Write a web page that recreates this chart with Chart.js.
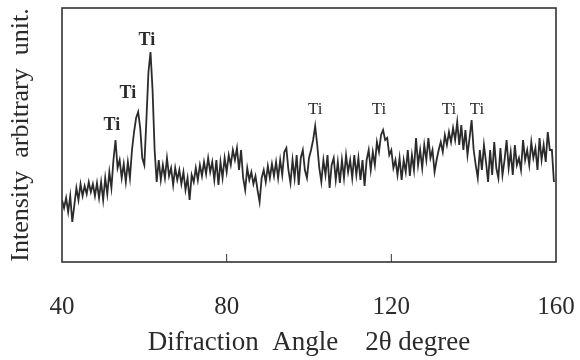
<!DOCTYPE html>
<html>
<head>
<meta charset="utf-8">
<script src="https://cdn.jsdelivr.net/npm/chart.js@4"></script>
<style>
  html, body { margin: 0; padding: 0; background: #fff; }
  #wrap { width: 580px; height: 360px; }
</style>
</head>
<body>
<div id="wrap"><canvas id="xrd"></canvas></div>
<script>
// diffraction angle 2theta, step 0.5 deg, from 40 to 159.5
var angleStart = 40, angleStep = 0.5;
var intensity = [
  62, 54, 64, 50, 66, 40, 57, 74, 62, 78, 66, 76, 68, 80, 70, 78, 66, 79, 64, 80,
  62, 84, 68, 90, 74, 102, 122, 94, 102, 84, 98, 80, 100, 84, 112, 130, 144, 150, 134, 104,
  97, 142, 190, 210, 172, 112, 80, 102, 82, 97, 84, 104, 86, 94, 77, 94, 82, 92, 78, 90,
  72, 84, 62, 87, 80, 94, 82, 97, 86, 100, 88, 104, 90, 100, 82, 102, 77, 100, 84, 104,
  90, 107, 97, 112, 102, 114, 92, 112, 84, 72, 94, 82, 90, 78, 86, 72, 60, 84, 92, 80,
  96, 84, 98, 86, 100, 84, 102, 87, 110, 114, 92, 79, 102, 84, 107, 77, 104, 112, 92, 84,
  104, 112, 122, 136, 117, 94, 80, 102, 87, 107, 74, 97, 104, 82, 100, 79, 102, 84, 107, 90,
  102, 84, 107, 87, 104, 82, 102, 76, 102, 112, 92, 110, 97, 120, 110, 127, 132, 122, 124, 107,
  112, 94, 102, 87, 104, 82, 102, 90, 112, 86, 107, 92, 124, 97, 112, 94, 117, 102, 124, 104,
  112, 90, 102, 112, 120, 110, 127, 117, 130, 120, 134, 122, 140, 117, 137, 112, 132, 107, 124, 142,
  112, 97, 84, 112, 92, 117, 100, 80, 112, 87, 120, 94, 84, 114, 87, 102, 122, 94, 110, 87,
  117, 97, 104, 92, 122, 102, 112, 97, 120, 104, 114, 92, 124, 102, 117, 100, 130, 112, 112, 80
];

// "Ti" peak labels: angle, intensity of label centre, bold or not
var tiAngles = [52.1, 56.0, 60.6, 101.5, 117.0, 134.0, 140.8];
var tiLevels = [137, 169, 222, 152, 152, 152, 152];
var tiBold = [true, true, true, false, false, false, false];

var xTicks = [40, 80, 120, 160];

var points = intensity.map(function (v, i) {
  return { x: angleStart + i * angleStep, y: v };
});

var serif = "'Liberation Serif', 'DejaVu Serif', serif";
var ink = '#2b2b2b';

var boxAndLabels = {
  id: 'boxAndLabels',
  afterDraw: function (chart) {
    var ctx = chart.ctx, a = chart.chartArea;
    var xs = chart.scales.x, ys = chart.scales.y;
    ctx.save();
    ctx.strokeStyle = '#333';
    ctx.lineWidth = 1.6;
    ctx.strokeRect(a.left, a.top, a.right - a.left, a.bottom - a.top);
    // small inward tick marks on the bottom edge
    ctx.lineWidth = 1;
    xTicks.slice(1, -1).forEach(function (t) {
      var px = xs.getPixelForValue(t);
      ctx.beginPath();
      ctx.moveTo(px, a.bottom);
      ctx.lineTo(px, a.bottom - 8);
      ctx.stroke();
    });
    ctx.fillStyle = ink;
    ctx.textAlign = 'center';
    ctx.textBaseline = 'middle';
    tiAngles.forEach(function (ang, i) {
      ctx.font = (tiBold[i] ? 'bold 18px ' : '17px ') + serif;
      ctx.fillText('Ti', xs.getPixelForValue(ang), ys.getPixelForValue(tiLevels[i]));
    });
    ctx.restore();
  }
};

new Chart(document.getElementById('xrd'), {
  type: 'line',
  data: {
    datasets: [{
      data: points,
      borderColor: ink,
      borderWidth: 1.8,
      pointRadius: 0,
      tension: 0,
      fill: false
    }]
  },
  options: {
    responsive: true,
    maintainAspectRatio: false,
    animation: false,
    layout: { padding: { top: 8, right: 24, left: 0, bottom: 0 } },
    plugins: { legend: { display: false }, tooltip: { enabled: false } },
    scales: {
      x: {
        type: 'linear',
        min: 40,
        max: 160,
        afterBuildTicks: function (s) {
          s.ticks = xTicks.map(function (v) { return { value: v }; });
        },
        afterFit: function (s) {
          s.height = 98;
          s.paddingLeft = 0;
          s.paddingRight = 0;
        },
        grid: { display: false, drawTicks: false },
        border: { display: false },
        ticks: {
          padding: 30,
          color: ink,
          font: { family: serif, size: 25 },
          maxRotation: 0
        },
        title: {
          display: true,
          text: 'Difraction  Angle    2\u03b8 degree',
          color: ink,
          font: { family: serif, size: 27 },
          padding: { top: 4, bottom: 1 }
        }
      },
      y: {
        min: 0,
        max: 254,
        afterFit: function (s) { s.width = 62; },
        grid: { display: false, drawTicks: false },
        border: { display: false },
        ticks: { display: false },
        title: {
          display: true,
          text: 'Intensity  arbitrary  unit.',
          color: ink,
          font: { family: serif, size: 26 },
          padding: { top: 6, bottom: 0 }
        }
      }
    }
  },
  plugins: [boxAndLabels]
});
</script>
</body>
</html>
